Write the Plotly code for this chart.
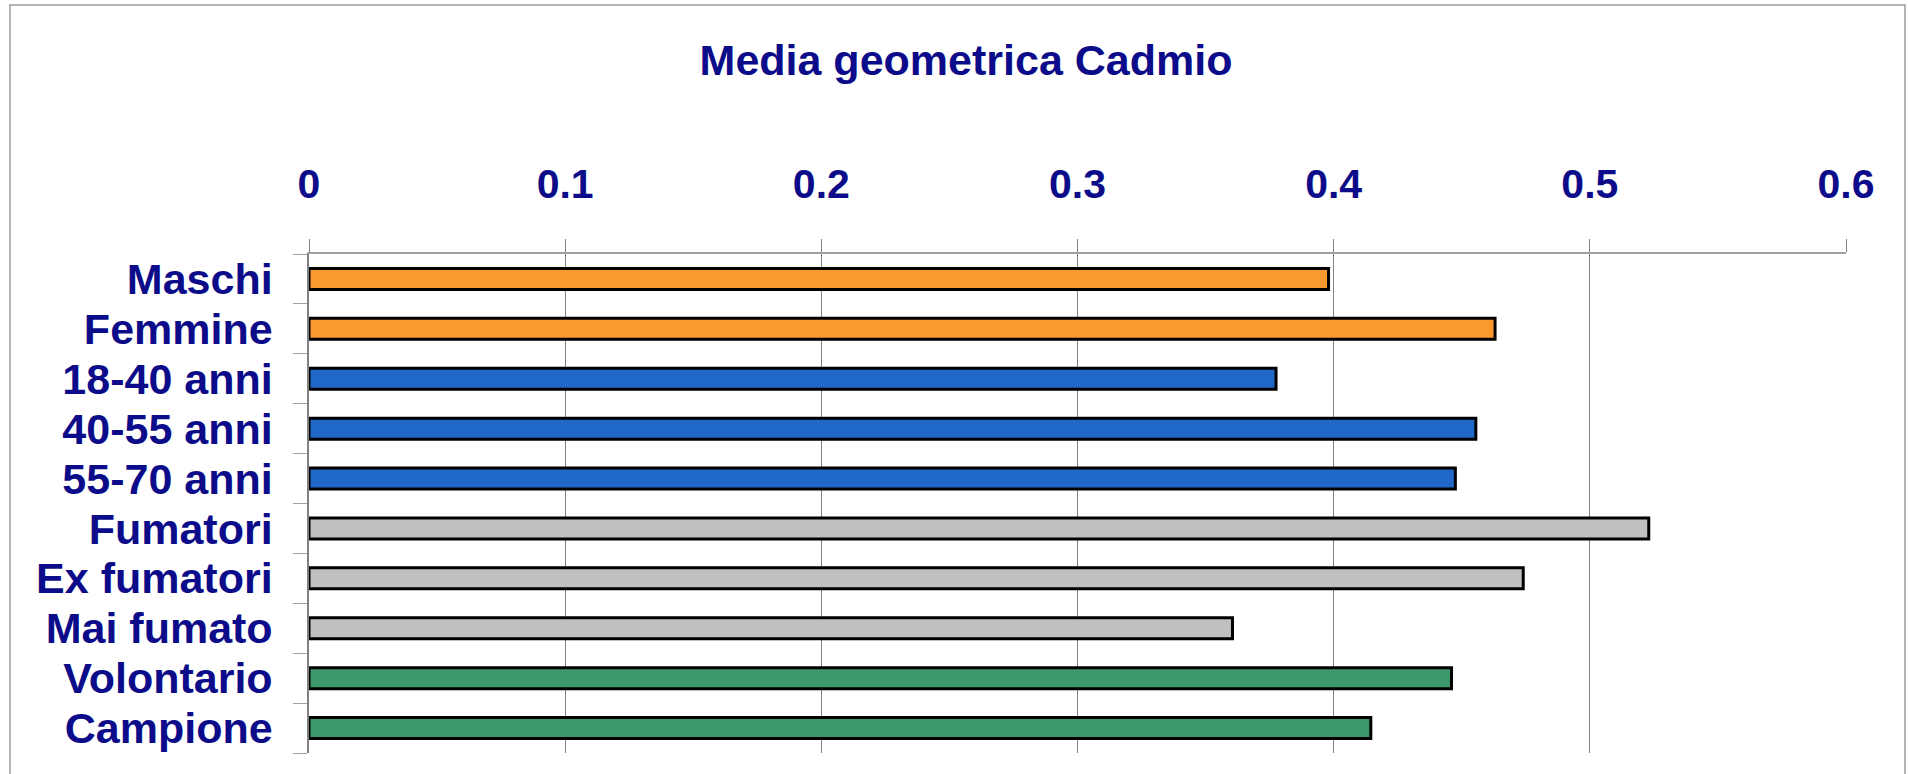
import plotly.graph_objects as go

categories = ["Maschi", "Femmine", "18-40 anni", "40-55 anni", "55-70 anni",
              "Fumatori", "Ex fumatori", "Mai fumato", "Volontario", "Campione"]
values = [0.398, 0.463, 0.3775, 0.4555, 0.4475, 0.523, 0.474, 0.3605, 0.446, 0.4145]
colors = ["#FA9A2E", "#FA9A2E", "#1F68C8", "#1F68C8", "#1F68C8",
          "#C0C0C0", "#C0C0C0", "#C0C0C0", "#3C986A", "#3C986A"]
x_ticks = [0, 0.1, 0.2, 0.3, 0.4, 0.5, 0.6]
title_text = "Media geometrica Cadmio"

NAVY = "#0C0C8A"
FONT = "Liberation Sans"

fig = go.Figure(go.Bar(
    x=values, y=categories, orientation="h",
    marker=dict(color=colors, line=dict(color="black", width=3)),
    width=0.42,
))

W, H = 1908, 774
L, R, T, B = 309, 62, 254, 21
PW, PH = W - L - R, H - T - B

def px(xp):
    return (xp - L) / PW

def py(yp):
    return (H - B - yp) / PH

fig.update_layout(
    width=W, height=H,
    margin=dict(l=L, r=R, t=T, b=B, autoexpand=False),
    paper_bgcolor="white", plot_bgcolor="white",
    showlegend=False,
    title=dict(text=title_text, xref="container", x=966 / W, xanchor="center",
               yref="container", y=1 - 60 / H, yanchor="middle",
               font=dict(family=FONT, size=43, color=NAVY, weight="bold")),
    xaxis=dict(side="top", range=[0, 0.6], tickmode="array", tickvals=x_ticks,
               ticktext=[("%g" % v) for v in x_ticks],
               showgrid=True, gridcolor="#808080", gridwidth=1,
               showline=True, linecolor="#A0A0A0", linewidth=2,
               ticks="outside", ticklen=13, tickcolor="#808080",
               ticklabelstandoff=25, zeroline=False, automargin=False,
               tickfont=dict(family=FONT, size=41, color=NAVY, weight="bold")),
    yaxis=dict(autorange="reversed", type="category",
               tickmode="array", tickvals=categories, ticktext=categories,
               showline=True, linecolor="#808080", linewidth=1.5,
               ticks="outside", ticklen=14, tickcolor="#A0A0A0", tickson="boundaries",
               ticklabelstandoff=26, automargin=False,
               tickfont=dict(family=FONT, size=43, color=NAVY, weight="bold")),
    shapes=[
        dict(type="rect", xref="paper", yref="paper",
             x0=px(10), x1=px(1905), y0=py(790), y1=py(5),
             line=dict(color="#9A9A9A", width=1.5), fillcolor="rgba(0,0,0,0)"),
    ],
)

fig.write_html("out.html", config={"displayModeBar": False},
               post_script="document.body.style.margin='0';document.body.style.overflow='hidden';")
